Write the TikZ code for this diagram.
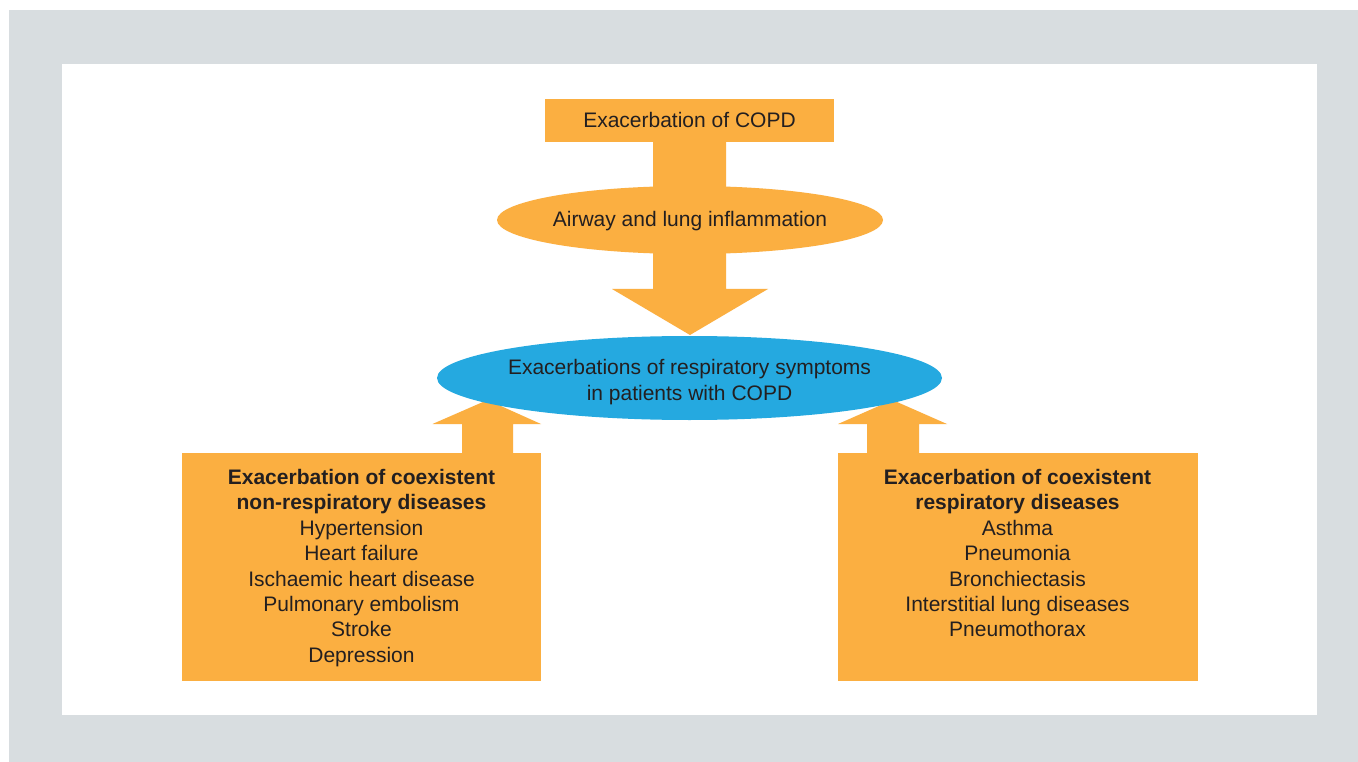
\documentclass[tikz,border=0pt]{standalone}
\usepackage{fontspec}
\setmainfont{Liberation Sans}
\usetikzlibrary{shapes.geometric}
\definecolor{bggray}{HTML}{D8DDE0}
\definecolor{orng}{HTML}{FBAF41}
\definecolor{blu}{HTML}{25A9E0}
\definecolor{txtc}{HTML}{231F20}
\tikzset{
  orangebox/.style={fill=orng, draw=none, rectangle, inner sep=0pt},
  orangeell/.style={fill=orng, draw=none, ellipse, inner sep=0pt},
  blueell/.style={fill=blu, draw=none, ellipse, inner sep=0pt},
  arrowshape/.style={fill=orng, draw=none},
  lbl/.style={text=txtc, align=center, inner sep=0pt, font=\fontsize{21}{25.4}\selectfont}
}
\begin{document}
\begin{tikzpicture}[x=1pt,y=-1pt]
\useasboundingbox (0,0) rectangle (1358,762);
\fill[bggray] (9,10) rectangle (1358,762);
\fill[white] (62,64) rectangle (1317,715);
% top box
\node[orangebox, minimum width=289pt, minimum height=43pt] (top) at (689.5,120.5) {};
\node[lbl] (toptxt) at (689.5,120) {Exacerbation of COPD};
% down arrow
\fill[arrowshape] (653,141) -- (726,141) -- (726,289) -- (768,289) -- (690,335) -- (612,289) -- (653,289) -- cycle;
% airway ellipse
\node[orangeell, minimum width=386pt, minimum height=68pt] (air) at (690,220) {};
\node[lbl] (airtxt) at (690,221) {Airway and lung inflammation};
% up arrows
\fill[arrowshape] (462,454) -- (462,424) -- (432.5,424) -- (487.5,400) -- (541,424) -- (513,424) -- (513,454) -- cycle;
\fill[arrowshape] (867,454) -- (867,424) -- (838,424) -- (892.5,400) -- (947,424) -- (919,424) -- (919,454) -- cycle;
% blue ellipse
\node[blueell, minimum width=505pt, minimum height=84pt] (sym) at (689.5,378) {};
\node[lbl] (symtxt) at (689.5,382) {Exacerbations of respiratory symptoms\\in patients with COPD};
% left box
\node[orangebox, minimum width=359pt, minimum height=228pt] (left) at (361.5,567) {};
\node[lbl, anchor=north] (lefttxt) at (361.5,469) {\textbf{Exacerbation of coexistent}\\\textbf{non-respiratory diseases}\\Hypertension\\Heart failure\\Ischaemic heart disease\\Pulmonary embolism\\Stroke\\Depression};
% right box
\node[orangebox, minimum width=360pt, minimum height=228pt] (right) at (1018,567) {};
\node[lbl, anchor=north] (righttxt) at (1017.5,469) {\textbf{Exacerbation of coexistent}\\\textbf{respiratory diseases}\\Asthma\\Pneumonia\\Bronchiectasis\\Interstitial lung diseases\\Pneumothorax};
\end{tikzpicture}
\end{document}
